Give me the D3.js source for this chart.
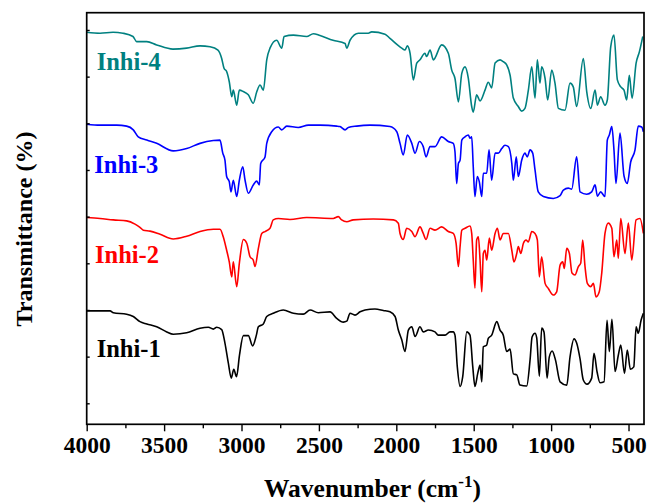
<!DOCTYPE html>
<html><head><meta charset="utf-8">
<script src="https://cdn.jsdelivr.net/npm/d3@7"></script>
<style>
html,body{margin:0;padding:0;background:#fff;}
svg{display:block;}
text{font-family:"Liberation Serif","Times New Roman",serif;font-weight:bold;}
</style></head>
<body><svg id="chart" width="647" height="504"></svg>
<script>
// ---- data (wavenumber in cm^-1, transmittance in arbitrary offset units) ----
const seriesNames = ["Inhi-1", "Inhi-2", "Inhi-3", "Inhi-4"];
const seriesColors = ["#000000", "#ff0000", "#0000ff", "#008080"];
const xTicks = [4000, 3500, 3000, 2500, 2000, 1500, 1000, 500];
const xMinorTicks = [3750, 3250, 2750, 2250, 1750, 1250, 750];
const yTicks = [10, 20, 30, 40, 50, 60, 70, 80, 90];

const wn4 = [4000,3914,3830,3766,3701,3677,3612,3548,3443,3354,3268,3203,3152,3128,3113,3096,3079,3063,3053,3031,3014,2988,2956,2924,2902,2880,2859,2837,2816,2773,2740,2725,2665,2579,2536,2493,2409,2331,2320,2299,2245,2181,2159,2073,2041,1965,1944,1929,1911,1890,1868,1847,1815,1804,1782,1761,1707,1664,1642,1621,1599,1577,1556,1535,1513,1503,1481,1459,1427,1406,1384,1362,1330,1309,1287,1265,1244,1212,1190,1169,1147,1125,1104,1089,1072,1061,1039,1022,996,975,953,910,878,857,835,792,770,744,716,701,680,652,637,615,594,572,550,529,512,495,477,451,430,408];
const t4 = [89.5,89.3,89.5,89.3,88.6,87.5,87.5,86.8,85.9,86.1,86.6,86.4,85.7,83.9,81.8,81.1,78.9,75.7,77.1,73.9,77.1,76.8,76.1,74.3,76.7,78.2,77.1,83.6,86.1,87.8,86.1,88.6,88.9,88.6,89.2,88.8,87.8,87.1,86.1,87.8,89.3,89.3,89.6,89.1,88.2,86.1,85.7,86.6,85.0,79.3,82.9,83.6,85.0,84.3,85.7,83.6,86.8,85.0,81.4,79.6,74.6,80.7,82.1,79.7,73.6,72.4,76.1,74.8,77.1,78.8,77.6,82.9,83.6,83.2,82.5,80.3,75.4,73.6,72.6,73.2,77.1,82.1,75.4,83.6,78.6,82.1,79.6,75.0,81.4,78.6,73.2,72.8,78.6,77.8,73.6,83.9,76.8,73.2,77.1,73.9,75.7,73.9,75.0,86.4,88.9,79.3,77.8,77.1,75.0,80.3,75.4,82.9,85.3,88.6];

const wn3 = [4000,3914,3806,3742,3699,3667,3612,3548,3441,3354,3268,3182,3139,3121,3107,3096,3079,3068,3053,3031,3014,2992,2977,2956,2924,2902,2885,2876,2848,2837,2805,2762,2740,2708,2633,2568,2493,2385,2364,2331,2310,2256,2170,2041,1997,1976,1955,1929,1900,1879,1851,1826,1808,1782,1750,1707,1664,1632,1621,1610,1599,1588,1577,1556,1535,1524,1513,1503,1492,1477,1464,1448,1438,1416,1401,1384,1362,1341,1319,1298,1276,1254,1244,1225,1212,1190,1169,1154,1136,1119,1104,1083,1050,986,942,921,889,867,835,813,770,738,716,701,680,652,637,624,608,594,581,555,529,508,486,458,437,415,404];
const t3 = [69.8,69.6,69.6,69.4,68.6,67.1,66.4,65.7,64.1,64.6,65.7,66.3,66.4,63.6,62.1,58.6,57.5,55.3,57.8,54.3,57.8,60.7,57.8,55.0,56.8,57.6,56.8,61.4,62.8,65.7,68.2,69.2,68.6,69.4,69.1,69.6,69.6,69.4,69.3,68.6,69.1,69.4,69.6,69.3,68.2,65.7,63.2,67.5,65.7,63.6,66.1,65.0,62.8,65.0,65.0,67.1,66.1,65.7,63.9,57.1,61.4,62.1,66.4,67.1,67.5,66.8,67.1,60.7,54.3,58.6,57.5,54.3,59.3,59.3,64.3,57.8,63.6,63.6,64.6,65.3,65.0,61.4,57.8,62.8,58.6,62.1,63.6,62.8,64.3,63.6,60.0,55.3,54.3,53.9,54.5,55.7,56.1,55.9,62.8,55.3,54.8,55.3,56.8,54.4,55.3,54.3,66.4,67.5,69.3,64.3,57.1,67.9,58.7,57.1,61.7,64.3,69.4,69.2,68.2];

const wn2 = [4000,3914,3828,3742,3688,3656,3634,3591,3526,3441,3354,3268,3182,3139,3118,3096,3079,3063,3053,3031,3014,2988,2966,2945,2924,2913,2891,2869,2848,2816,2795,2762,2687,2579,2407,2375,2353,2320,2278,2149,2019,1987,1976,1955,1933,1900,1879,1847,1826,1808,1782,1750,1707,1664,1632,1614,1599,1588,1577,1556,1524,1513,1503,1492,1481,1470,1459,1448,1438,1427,1416,1399,1384,1362,1347,1330,1309,1276,1254,1240,1222,1212,1196,1179,1162,1147,1125,1104,1089,1076,1061,1039,1018,986,964,942,925,915,899,882,865,846,824,809,796,781,766,744,727,710,689,673,652,631,608,594,576,566,550,523,501,479,451,426,404];
const t2 = [49.8,49.6,49.3,49.1,48.4,47.7,47.1,46.9,46.2,45.2,45.8,46.8,47.3,47.3,45.7,42.8,40.3,37.1,40.3,35.0,40.0,45.1,44.3,41.4,40.7,39.3,43.2,46.4,46.8,47.5,49.3,49.6,49.4,49.8,49.6,50.0,49.3,48.9,49.3,49.5,49.3,48.6,46.4,45.1,47.5,46.8,45.7,47.8,46.4,45.1,47.5,47.1,47.8,46.8,46.4,44.3,39.3,43.6,47.1,47.5,48.0,46.4,40.7,34.7,45.0,45.7,40.7,33.9,42.1,42.8,40.7,45.4,42.8,46.4,47.5,45.0,46.4,46.4,42.8,40.3,42.1,43.6,42.1,44.3,45.0,44.6,46.8,46.4,45.0,37.1,41.4,35.7,34.6,33.2,33.9,39.6,40.3,38.9,43.2,42.1,37.9,37.5,39.3,40.0,45.0,39.3,35.7,35.0,35.7,32.8,33.9,37.9,46.4,48.6,47.5,41.4,45.0,41.1,49.6,42.1,48.6,40.7,49.3,49.6,46.4];

const wn1 = [4000,3914,3849,3828,3742,3699,3656,3612,3548,3483,3441,3354,3268,3214,3182,3160,3128,3107,3085,3066,3050,3032,3013,2988,2956,2928,2904,2891,2859,2837,2795,2730,2665,2601,2557,2504,2428,2385,2342,2320,2299,2267,2234,2202,2138,2084,2041,2008,1987,1965,1944,1922,1900,1879,1847,1826,1793,1750,1729,1685,1653,1632,1621,1606,1588,1571,1545,1524,1506,1492,1474,1459,1448,1438,1416,1406,1384,1351,1330,1309,1287,1265,1244,1222,1201,1158,1136,1123,1104,1093,1076,1061,1046,1026,1012,993,972,942,899,878,852,835,813,792,768,738,723,703,684,658,639,624,607,587,566,550,526,508,488,466,451,437,419,404];
const t1 = [29.8,29.8,29.8,29.4,29.1,28.6,27.5,27.0,26.4,25.3,24.8,25.1,26.1,26.3,25.9,26.3,25.8,22.9,18.6,15.4,17.3,15.7,20.3,24.5,24.5,22.3,24.6,26.4,27.0,28.6,29.3,30.0,29.3,29.1,30.0,29.4,29.6,28.2,27.4,27.6,29.3,28.9,29.6,30.0,30.2,29.9,29.6,28.6,25.7,23.6,21.1,25.7,26.4,24.3,26.4,25.3,25.7,25.3,24.6,24.6,25.3,25.3,24.6,17.8,13.6,15.7,25.3,24.6,17.8,13.6,16.4,18.2,14.6,22.1,22.5,23.9,24.6,27.5,25.7,24.6,21.1,21.6,16.3,16.1,13.9,13.7,19.3,24.2,25.0,24.0,15.8,26.1,25.3,15.4,19.9,21.2,19.3,14.6,13.9,19.9,23.8,22.9,19.5,15.0,14.1,15.4,20.7,16.7,14.4,14.6,27.8,21.1,28.0,16.8,20.3,22.5,16.4,21.4,17.3,17.8,26.4,25.0,27.8,29.3];

const seriesWn = [wn1, wn2, wn3, wn4];
const seriesT = [t1, t2, t3, t4];

// ---- layout ----
const svg = d3.select("#chart");
const L = 86.7, R = 644, T = 12.7, B = 424.3;
const x = d3.scaleLinear().domain([4000, 400]).range([L, R]);
const y = d3.scaleLinear().domain([5.5, 93.7]).range([B, T]);

svg.append("rect").attr("width", 647).attr("height", 504).attr("fill", "#fff");

// curves
const line = d3.line().x(d => x(d[0])).y(d => y(d[1])).curve(d3.curveMonotoneX);
seriesWn.forEach((w, i) => {
  const pts = w.map((v, j) => [v, seriesT[i][j]]);
  svg.append("path").datum(pts)
    .attr("d", line).attr("fill", "none")
    .attr("stroke", seriesColors[i]).attr("stroke-width", 1.6)
    .attr("stroke-linejoin", "round");
});

// frame
svg.append("rect").attr("x", L).attr("y", T).attr("width", R - L).attr("height", B - T)
  .attr("fill", "none").attr("stroke", "#000").attr("stroke-width", 1.7);

// x axis
const xAxis = svg.append("g").attr("transform", `translate(0,${B})`)
  .call(d3.axisBottom(x).tickValues(xTicks).tickSize(7).tickFormat(d3.format("d")));
xAxis.select(".domain").remove();
xAxis.selectAll(".tick line").attr("stroke", "#000").attr("stroke-width", 1.4);
xAxis.selectAll(".tick text").attr("fill", "#000").attr("font-size", 23.5)
  .attr("font-family", '"Liberation Serif",serif').attr("font-weight", "bold").attr("y", 12).attr("dy", "0.71em");
const xMinor = svg.append("g").attr("transform", `translate(0,${B})`)
  .call(d3.axisBottom(x).tickValues(xMinorTicks).tickSize(4).tickFormat(""));
xMinor.select(".domain").remove();
xMinor.selectAll(".tick line").attr("stroke", "#000").attr("stroke-width", 1.4);

// y axis ticks (inward, no labels)
const yAxis = svg.append("g").attr("transform", `translate(${L},0)`)
  .call(d3.axisRight(y).tickValues(yTicks).tickSize(3).tickFormat(""));
yAxis.select(".domain").remove();
yAxis.selectAll(".tick line").attr("stroke", "#000").attr("stroke-width", 1.4);

// axis titles
const xt = svg.append("text").attr("x", 372.5).attr("y", 497).attr("text-anchor", "middle")
  .attr("font-size", 25.5).attr("fill", "#000");
xt.append("tspan").text("Wavenumber (cm");
xt.append("tspan").attr("font-size", 17).attr("dy", -10).text("-1");
xt.append("tspan").attr("dy", 10).text(")");

svg.append("text").attr("transform", "translate(32,229) rotate(-90)")
  .attr("text-anchor", "middle").attr("font-size", 24).attr("fill", "#000")
  .text("Transmittance (%)");

// series labels
const labelPos = [[96.7, 356.5], [95, 262.7], [94.3, 173], [96.7, 70.3]];
seriesNames.forEach((n, i) => {
  svg.append("text").attr("x", labelPos[i][0]).attr("y", labelPos[i][1])
    .attr("font-size", 24.5).attr("fill", seriesColors[i]).text(n);
});
</script></body></html>
